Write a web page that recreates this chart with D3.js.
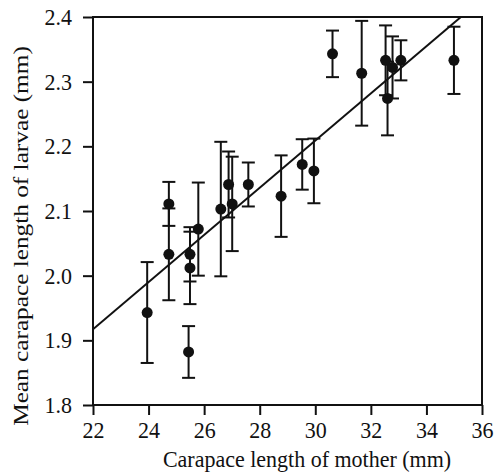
<!DOCTYPE html>
<html>
<head>
<meta charset="utf-8">
<script src="https://cdn.jsdelivr.net/npm/d3@7/dist/d3.min.js"></script>
<style>
  body { margin: 0; background: #fff; }
  svg { display: block; }
</style>
</head>
<body>
<div id="chart"></div>
<script>
// Carapace length of mother vs mean larval carapace length (mm)
const motherLen = [23.95, 24.73, 24.73, 25.49, 25.49, 25.44, 25.79, 26.6, 26.88, 27.01,
                   27.59, 28.77, 29.53, 29.95, 30.62, 31.67, 32.53, 32.6, 32.78, 33.08, 34.99]
const larvaLen  = [1.943, 2.111, 2.033, 2.033, 2.012, 1.882, 2.072, 2.103, 2.141, 2.111,
                   2.141, 2.123, 2.172, 2.162, 2.343, 2.313, 2.333, 2.274, 2.322, 2.333, 2.333]
const errLen    = [0.078, 0.034, 0.071, 0.042, 0.056, 0.040, 0.072, 0.104, 0.051, 0.073,
                   0.034, 0.063, 0.039, 0.050, 0.036, 0.081, 0.054, 0.057, 0.048, 0.031, 0.052]

// regression line end points
const fitX = [22, 35.24]
const fitY = [1.917, 2.4]

const xTicks = [22, 24, 26, 28, 30, 32, 34, 36]
const yTicks = [1.8, 1.9, 2.0, 2.1, 2.2, 2.3, 2.4]

const W = 497, H = 474
const margin = { top: 17, right: 15, bottom: 69, left: 93 }
const iw = W - margin.left - margin.right
const ih = H - margin.top - margin.bottom
const font = '"Liberation Serif", "Times New Roman", serif'
const stretch = 1.08   // the figure is a bit taller than wide, text too

const svg = d3.select('#chart').append('svg')
  .attr('width', W).attr('height', H)

const g = svg.append('g')
  .attr('transform', `translate(${margin.left},${margin.top})`)

const x = d3.scaleLinear().domain([22, 36]).range([0, iw])
const y = d3.scaleLinear().domain([1.8, 2.4]).range([ih, 0])

// Axes
const xAxis = g.append('g').attr('transform', `translate(0,${ih})`)
  .call(d3.axisBottom(x).tickValues(xTicks).tickFormat(d3.format('d')).tickSize(10).tickSizeOuter(0).tickPadding(6))
const yAxis = g.append('g')
  .call(d3.axisLeft(y).tickValues(yTicks).tickFormat(d3.format('.1f')).tickSize(10).tickSizeOuter(0).tickPadding(11))

for (const ax of [xAxis, yAxis]) {
  ax.select('.domain').remove()
  ax.selectAll('.tick line').attr('stroke', '#111').attr('stroke-width', 2)
  ax.selectAll('.tick text')
    .style('font-family', font).style('font-size', '22px').attr('fill', '#111')
}
xAxis.selectAll('.tick text')
  .attr('transform', `translate(0,16) scale(1,${stretch}) translate(0,-16)`)
yAxis.selectAll('.tick text').attr('transform', `scale(1,${stretch})`)

// Frame
g.append('rect')
  .attr('x', 0).attr('y', 0).attr('width', iw).attr('height', ih)
  .attr('fill', 'none').attr('stroke', '#111').attr('stroke-width', 2)

// Regression line
const clip = svg.append('clipPath').attr('id', 'plotclip')
clip.append('rect').attr('width', iw).attr('height', ih)
g.append('line')
  .attr('clip-path', 'url(#plotclip)')
  .attr('x1', x(fitX[0])).attr('y1', y(fitY[0]))
  .attr('x2', x(fitX[1])).attr('y2', y(fitY[1]))
  .attr('stroke', '#111').attr('stroke-width', 2)

const pts = motherLen.map((m, i) => ({ m, l: larvaLen[i], e: errLen[i] }))
const cap = 6.5

const eb = g.append('g').selectAll('g').data(pts).join('g')
  .attr('stroke', '#111').attr('stroke-width', 2)
eb.append('line')
  .attr('x1', d => x(d.m)).attr('x2', d => x(d.m))
  .attr('y1', d => y(d.l + d.e)).attr('y2', d => y(d.l - d.e))
eb.append('line')
  .attr('x1', d => x(d.m) - cap).attr('x2', d => x(d.m) + cap)
  .attr('y1', d => y(d.l + d.e)).attr('y2', d => y(d.l + d.e))
eb.append('line')
  .attr('x1', d => x(d.m) - cap).attr('x2', d => x(d.m) + cap)
  .attr('y1', d => y(d.l - d.e)).attr('y2', d => y(d.l - d.e))

g.append('g').selectAll('circle').data(pts).join('circle')
  .attr('cx', d => x(d.m)).attr('cy', d => y(d.l)).attr('r', 5.5)
  .attr('fill', '#111')

// Axis titles
svg.append('text')
  .attr('transform', `translate(307,467) scale(1,1.04)`)
  .attr('text-anchor', 'middle')
  .style('font-family', font).style('font-size', '22px').attr('fill', '#111')
  .text('Carapace length of mother (mm)')

svg.append('text')
  .attr('transform', `translate(28,236) rotate(-90) scale(1.15,1)`)
  .attr('text-anchor', 'middle')
  .style('font-family', font).style('font-size', '22px').attr('fill', '#111')
  .text('Mean carapace length of larvae (mm)')
</script>
</body>
</html>
